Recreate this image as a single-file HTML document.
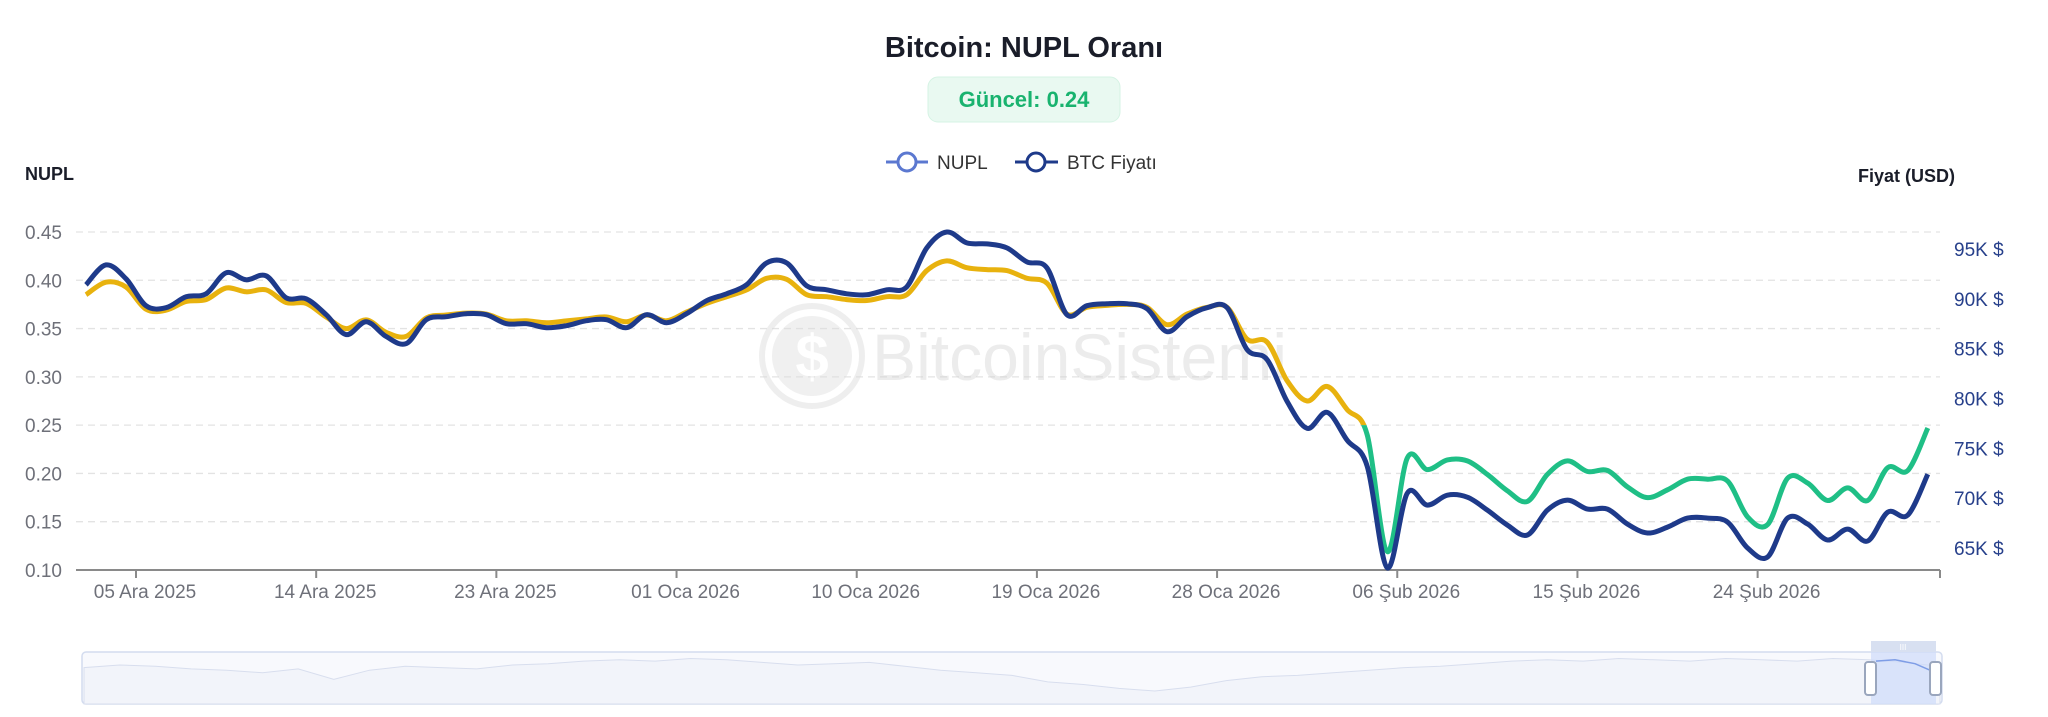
<!DOCTYPE html>
<html><head><meta charset="utf-8">
<style>
html,body{margin:0;padding:0;background:#fff;}
body{width:2048px;height:712px;overflow:hidden;font-family:"Liberation Sans",sans-serif;}
svg text{font-family:"Liberation Sans",sans-serif;}
</style></head>
<body>
<svg id="chart" width="2048" height="712" viewBox="0 0 2048 712" xmlns="http://www.w3.org/2000/svg">
  <text x="1024" y="57" text-anchor="middle" font-size="29" font-weight="bold" fill="#1a1d29">Bitcoin: NUPL Oranı</text>
  <g>
    <rect x="928" y="77" width="192" height="45" rx="10" fill="#e9f9f1" stroke="#d5f3e4"/>
    <text x="1024" y="107" text-anchor="middle" font-size="22" font-weight="bold" fill="#19b36f">Güncel: 0.24</text>
  </g>
  <g>
    <g>
      <line x1="886" y1="162" x2="928" y2="162" stroke="#5b78d0" stroke-width="3"/>
      <circle cx="907" cy="162" r="9" fill="#fff" stroke="#5b78d0" stroke-width="3"/>
      <text x="937" y="169" font-size="19" fill="#333">NUPL</text>
    </g>
    <g>
      <line x1="1015" y1="162" x2="1058" y2="162" stroke="#1e3a8a" stroke-width="3"/>
      <circle cx="1036" cy="162" r="9" fill="#fff" stroke="#1e3a8a" stroke-width="3"/>
      <text x="1067" y="169" font-size="19" fill="#333">BTC Fiyatı</text>
    </g>
  </g>
  <text x="25" y="180" font-size="18" font-weight="bold" fill="#1a1d29">NUPL</text>
  <text x="1858" y="182" font-size="18" font-weight="bold" fill="#1a1d29">Fiyat (USD)</text>
  <g id="grid"></g>
  <g id="watermark" opacity="0.42">
    <circle cx="812" cy="356" r="50" fill="none" stroke="#d9d9d9" stroke-width="6"/>
    <circle cx="812" cy="356" r="40" fill="#dcdcdc"/>
    <text x="812" y="377" text-anchor="middle" font-size="60" font-weight="bold" fill="#fff">$</text>
    <text x="872" y="380" font-size="66" fill="#d2d2d2" textLength="415" lengthAdjust="spacingAndGlyphs">BitcoinSistemi</text>
  </g>
  <g id="leftTicks"></g>
  <g id="rightTicks"></g>
  <g id="xAxis"></g>
  <defs>
    <clipPath id="clipAbove"><rect id="clipA" x="0" y="0" width="2048" height="425"/></clipPath>
    <clipPath id="clipBelow"><rect id="clipB" x="0" y="425" width="2048" height="300"/></clipPath>
  </defs>
  <g id="series"></g>
  <g id="slider">
    <rect x="82" y="652" width="1860" height="52" rx="4" fill="#f8f9fd" stroke="#d3dcef" stroke-width="1.5"/>
    <path id="miniLine" fill="#f2f4fa" stroke="#d8deee" stroke-width="1"/>
    <rect x="1871" y="652" width="65" height="52" fill="#cfdcfa" opacity="0.7"/>
    <rect x="1871" y="641" width="65" height="11" fill="#d8e0f1"/>
    <text x="1903" y="650" text-anchor="middle" font-size="8" fill="#fff">III</text>
    <path id="miniSel" fill="none" stroke="#7e9de6" stroke-width="1.5"/>
    <rect x="1865" y="662" width="11" height="33" rx="3" fill="#fff" stroke="#9aa6bd" stroke-width="2"/>
    <rect x="1930" y="662" width="11" height="33" rx="3" fill="#fff" stroke="#9aa6bd" stroke-width="2"/>
  </g>
</svg>
<script>
const dates = [];
(function(){const s=Date.UTC(2025,11,2,12);for(let i=0;i<93;i++){dates.push(s+i*86400000);}})();
const nuplValues = [0.385,0.398,0.393,0.370,0.369,0.378,0.380,0.392,0.388,0.390,0.377,0.376,0.362,0.350,0.359,0.346,0.342,0.361,0.364,0.366,0.365,0.358,0.358,0.356,0.358,0.360,0.362,0.357,0.364,0.358,0.367,0.376,0.383,0.390,0.402,0.401,0.385,0.383,0.380,0.379,0.383,0.385,0.410,0.420,0.413,0.411,0.410,0.402,0.397,0.365,0.372,0.374,0.375,0.372,0.354,0.365,0.372,0.372,0.339,0.336,0.296,0.275,0.290,0.266,0.240,0.119,0.216,0.204,0.214,0.213,0.199,0.182,0.171,0.199,0.213,0.202,0.203,0.186,0.175,0.183,0.194,0.194,0.192,0.155,0.147,0.195,0.190,0.172,0.185,0.172,0.206,0.203,0.247];
const priceValues = [91.4,93.4,92.0,89.3,89.1,90.2,90.5,92.6,91.9,92.3,90.1,90.0,88.4,86.4,87.7,86.2,85.5,87.9,88.2,88.5,88.4,87.5,87.5,87.1,87.3,87.8,87.9,87.1,88.4,87.6,88.5,89.8,90.5,91.4,93.6,93.6,91.3,90.9,90.5,90.4,90.9,91.2,95.1,96.7,95.6,95.5,95.1,93.7,93.1,88.4,89.3,89.5,89.5,89.0,86.7,88.2,89.1,89.1,84.9,83.9,79.7,77.0,78.6,75.8,73.2,63.0,70.5,69.3,70.3,70.1,68.8,67.3,66.3,68.8,69.8,68.9,68.9,67.4,66.5,67.1,68.0,68.0,67.6,65.0,64.1,68.0,67.4,65.8,66.9,65.7,68.6,68.3,72.4];
const leftTicks = [0.10,0.15,0.20,0.25,0.30,0.35,0.40,0.45];
const rightTicks = [65,70,75,80,85,90,95];
const xTickLabels = ["05 Ara 2025","14 Ara 2025","23 Ara 2025","01 Oca 2026","10 Oca 2026","19 Oca 2026","28 Oca 2026","06 Şub 2026","15 Şub 2026","24 Şub 2026"];
const xTickDates = ["2025-12-05","2025-12-14","2025-12-23","2026-01-01","2026-01-10","2026-01-19","2026-01-28","2026-02-06","2026-02-15","2026-02-24"];
const nuplThreshold = 0.25;
const overview = [68,70,69,67,66,64,67,59,66,69,68,67,70,71,73,74,73,75,74,72,70,71,72,69,66,64,62,57,55,52,50,53,58,61,62,64,66,68,69,71,73,74,73,75,74,73,75,74,73,75,74,72,69];

const NS="http://www.w3.org/2000/svg";
const X0=76,X1=1940,PXDAY=20.02,T0=Date.UTC(2025,11,5);
const xScale=t=>136+(t-T0)/86400000*PXDAY;
const yN=v=>570-(v-0.10)/0.05*48.29;
const yP=p=>548-(p-65)*9.97;
function mk(tag,attrs,parent){const e=document.createElementNS(NS,tag);for(const k in attrs)e.setAttribute(k,attrs[k]);parent.appendChild(e);return e;}
function smooth(pts){let d="M"+pts[0][0].toFixed(1)+","+pts[0][1].toFixed(1);
  for(let i=0;i<pts.length-1;i++){const p0=pts[i-1]||pts[i],p1=pts[i],p2=pts[i+1],p3=pts[i+2]||p2;
    const c1x=p1[0]+(p2[0]-p0[0])/6,c1y=p1[1]+(p2[1]-p0[1])/6,c2x=p2[0]-(p3[0]-p1[0])/6,c2y=p2[1]-(p3[1]-p1[1])/6;
    d+=" C"+c1x.toFixed(1)+","+c1y.toFixed(1)+" "+c2x.toFixed(1)+","+c2y.toFixed(1)+" "+p2[0].toFixed(1)+","+p2[1].toFixed(1);}
  return d;}

const grid=document.getElementById('grid'),lt=document.getElementById('leftTicks'),rt=document.getElementById('rightTicks'),xa=document.getElementById('xAxis'),series=document.getElementById('series');
leftTicks.forEach(v=>{
  if(v>0.10){const g=mk('line',{x1:X0,x2:X1,y1:yN(v),y2:yN(v),stroke:'#e3e3e3','stroke-width':1.3,'stroke-dasharray':'7,5'},grid);
  
  }
  const t=mk('text',{x:62,y:yN(v)+7,'text-anchor':'end','font-size':19,fill:'#6e7079'},lt);t.textContent=v.toFixed(2);
  
  
});
rightTicks.forEach(p=>{const t=mk('text',{x:1954,y:yP(p)+7,'font-size':19,fill:'#27408b'},rt);t.textContent=p+"K $";
  
  });
mk('line',{x1:X0,x2:X1,y1:570,y2:570,stroke:'#8a8a8a','stroke-width':2},xa);
mk('line',{x1:X1,x2:X1,y1:570,y2:578,stroke:'#8a8a8a','stroke-width':2},xa);
xTickDates.forEach((d,i)=>{const x=xScale(Date.parse(d+"T00:00:00Z"));
  mk('line',{x1:x,x2:x,y1:570,y2:578,stroke:'#8a8a8a','stroke-width':2},xa);
  const t=mk('text',{x:x+9,y:598,'text-anchor':'middle','font-size':19,fill:'#6e7079'},xa);t.textContent=xTickLabels[i];
  
  });

const ty=yN(nuplThreshold);
document.getElementById('clipA').setAttribute('height',ty);
document.getElementById('clipB').setAttribute('y',ty);
const nPts=nuplValues.map((v,i)=>[xScale(dates[i]),yN(v)]);
const pPts=priceValues.map((v,i)=>[xScale(dates[i]),yP(v)]);
const nd=smooth(nPts);
const l1=mk('path',{d:nd,fill:'none',stroke:'#e8b20e','stroke-width':5,'stroke-linejoin':'round','clip-path':'url(#clipAbove)'},series);


const l2=mk('path',{d:nd,fill:'none',stroke:'#1fbf86','stroke-width':5,'stroke-linejoin':'round','clip-path':'url(#clipBelow)'},series);


const l3=mk('path',{d:smooth(pPts),fill:'none',stroke:'#1e3a8a','stroke-width':5,'stroke-linejoin':'round'},series);



const mx=i=>84+i*(1856/(overview.length-1)), my=v=>704-(v-40)*1.3;
let md="M84,704";overview.forEach((v,i)=>{md+=" L"+mx(i).toFixed(1)+","+my(v).toFixed(1);});md+=" L1940,704 Z";
document.getElementById('miniLine').setAttribute('d',md);
document.getElementById('miniSel').setAttribute('d',"M1876,"+my(73).toFixed(1)+" L1895,"+my(74).toFixed(1)+" L1915,"+my(71).toFixed(1)+" L1930,"+my(66).toFixed(1));
</script>
</body></html>
